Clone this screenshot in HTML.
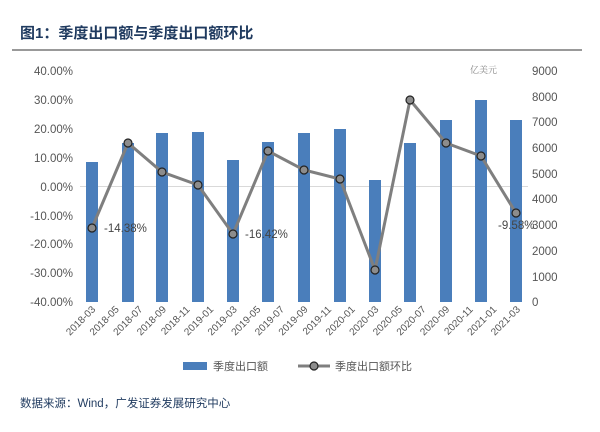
<!DOCTYPE html>
<html><head><meta charset="utf-8"><style>
body{margin:0;background:#fff;width:600px;height:427px;overflow:hidden;font-family:"Liberation Sans","Noto Sans CJK SC",sans-serif}
</style></head><body>
<svg width="600" height="427" xmlns="http://www.w3.org/2000/svg" font-family="Liberation Sans, Noto Sans CJK SC, sans-serif">
<text x="20" y="38" font-size="15" font-weight="bold" fill="#1f3a5f">图1：季度出口额与季度出口额环比</text>
<line x1="12" y1="50" x2="582" y2="50" stroke="#333" stroke-width="1"/>
<g font-size="11.5" fill="#555" text-anchor="end">
<text x="73" y="75">40.00%</text><text x="73" y="104">30.00%</text><text x="73" y="133">20.00%</text><text x="73" y="162">10.00%</text><text x="73" y="191">0.00%</text><text x="73" y="220">-10.00%</text><text x="73" y="248">-20.00%</text><text x="73" y="277">-30.00%</text><text x="73" y="306">-40.00%</text>
</g>
<g font-size="11.5" fill="#555" text-anchor="start">
<text x="532" y="75">9000</text><text x="532" y="101">8000</text><text x="532" y="126">7000</text><text x="532" y="152">6000</text><text x="532" y="178">5000</text><text x="532" y="203">4000</text><text x="532" y="229">3000</text><text x="532" y="255">2000</text><text x="532" y="281">1000</text><text x="532" y="306">0</text>
</g>
<text x="470" y="73" font-size="9" fill="#888" font-family="Noto Serif CJK SC, serif">亿美元</text>
<line x1="80" y1="186.5" x2="528" y2="186.5" stroke="#d9d9d9"/>
<g fill="#4a7ebb">
<rect x="86" y="162" width="12" height="140"/><rect x="122" y="143" width="12" height="159"/><rect x="156" y="133" width="12" height="169"/><rect x="192" y="132" width="12" height="170"/><rect x="227" y="160" width="12" height="142"/><rect x="262" y="142" width="12" height="160"/><rect x="298" y="133" width="12" height="169"/><rect x="334" y="129" width="12" height="173"/><rect x="369" y="180" width="12" height="122"/><rect x="404" y="143" width="12" height="159"/><rect x="440" y="120" width="12" height="182"/><rect x="475" y="100" width="12" height="202"/><rect x="510" y="120" width="12" height="182"/>
</g>
<polyline fill="none" stroke="#7f7f7f" stroke-width="3" points="92,228 128,143 162,172 198,185 233,234 268,151 304,170 340,179 375,270 410,100 446,143 481,156 516,213"/>
<g fill="#8c8c8c" stroke="#222" stroke-width="1.2">
<circle cx="92" cy="228" r="4"/><circle cx="128" cy="143" r="4"/><circle cx="162" cy="172" r="4"/><circle cx="198" cy="185" r="4"/><circle cx="233" cy="234" r="4"/><circle cx="268" cy="151" r="4"/><circle cx="304" cy="170" r="4"/><circle cx="340" cy="179" r="4"/><circle cx="375" cy="270" r="4"/><circle cx="410" cy="100" r="4"/><circle cx="446" cy="143" r="4"/><circle cx="481" cy="156" r="4"/><circle cx="516" cy="213" r="4"/>
</g>
<g font-size="11.5" fill="#444">
<text x="104" y="232">-14.38%</text><text x="245" y="238">-16.42%</text><text x="498" y="229">-9.58%</text>
</g>
<g font-size="10" fill="#555" text-anchor="end">
<text transform="translate(96,310) rotate(-45)">2018-03</text>
<text transform="translate(119.6,310) rotate(-45)">2018-05</text>
<text transform="translate(143.2,310) rotate(-45)">2018-07</text>
<text transform="translate(166.8,310) rotate(-45)">2018-09</text>
<text transform="translate(190.4,310) rotate(-45)">2018-11</text>
<text transform="translate(214,310) rotate(-45)">2019-01</text>
<text transform="translate(237.6,310) rotate(-45)">2019-03</text>
<text transform="translate(261.2,310) rotate(-45)">2019-05</text>
<text transform="translate(284.8,310) rotate(-45)">2019-07</text>
<text transform="translate(308.4,310) rotate(-45)">2019-09</text>
<text transform="translate(332,310) rotate(-45)">2019-11</text>
<text transform="translate(355.6,310) rotate(-45)">2020-01</text>
<text transform="translate(379.2,310) rotate(-45)">2020-03</text>
<text transform="translate(402.8,310) rotate(-45)">2020-05</text>
<text transform="translate(426.4,310) rotate(-45)">2020-07</text>
<text transform="translate(450,310) rotate(-45)">2020-09</text>
<text transform="translate(473.6,310) rotate(-45)">2020-11</text>
<text transform="translate(497.2,310) rotate(-45)">2021-01</text>
<text transform="translate(520.8,310) rotate(-45)">2021-03</text>
</g>
<rect x="183" y="362" width="24" height="8" fill="#4a7ebb"/>
<text x="213" y="370" font-size="11" fill="#555">季度出口额</text>
<line x1="298" y1="366" x2="330" y2="366" stroke="#7f7f7f" stroke-width="3"/>
<circle cx="314" cy="366" r="4" fill="#8c8c8c" stroke="#222" stroke-width="1.2"/>
<text x="335" y="370" font-size="11" fill="#555">季度出口额环比</text>
<text x="20" y="407" font-size="11.5" fill="#1f3a5f">数据来源：Wind，广发证券发展研究中心</text>
</svg>
</body></html>
